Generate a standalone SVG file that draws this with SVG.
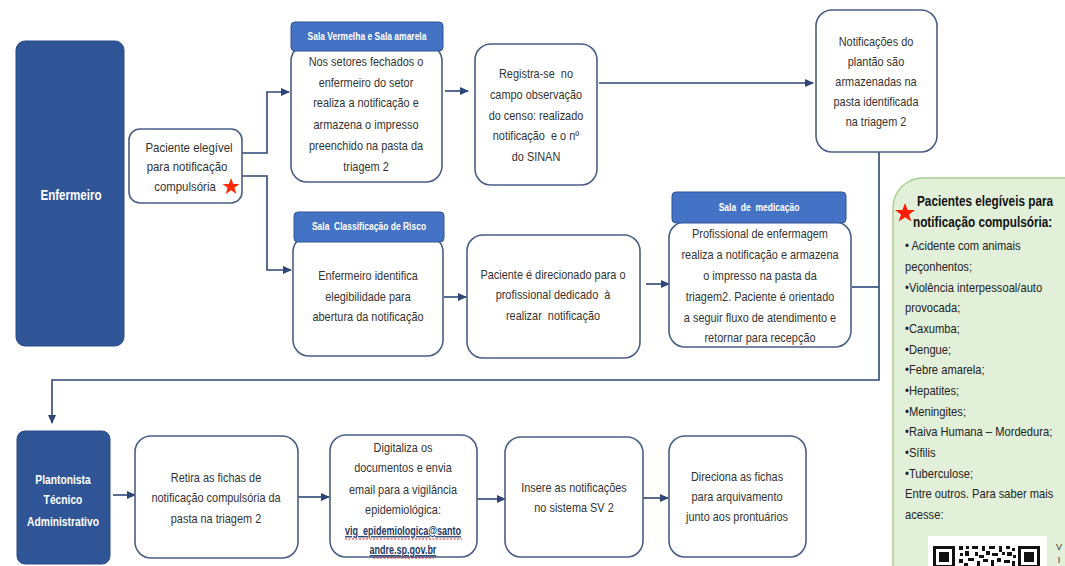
<svg xmlns="http://www.w3.org/2000/svg" width="1065" height="566" viewBox="0 0 1065 566">
<defs>
<marker id="arr" markerWidth="9" markerHeight="8" refX="8" refY="4" orient="auto" markerUnits="userSpaceOnUse">
<path d="M0,0 L9,4 L0,8 Z" fill="#2E4676"/>
</marker>
<style>
.lane{fill:#2F5597;stroke:#2A4C87;stroke-width:1}
.box{fill:#ffffff;stroke:#4A5E86;stroke-width:1.6}
.hdr{fill:#4472C4;stroke:#2F5597;stroke-width:1}
.t{font-family:"Liberation Sans",Arial,sans-serif;font-size:13px;fill:#333333;text-anchor:middle}
.h{font-family:"Liberation Sans",Arial,sans-serif;font-size:10px;font-weight:bold;fill:#ffffff;text-anchor:middle}
.w{font-family:"Liberation Sans",Arial,sans-serif;font-weight:bold;fill:#ffffff;text-anchor:middle}
.g{font-family:"Liberation Sans",Arial,sans-serif;font-size:13px;fill:#222222}
.gb{font-family:"Liberation Sans",Arial,sans-serif;font-size:15.5px;font-weight:bold;fill:#111111}
.sm{font-family:"Liberation Sans",Arial,sans-serif;font-size:9px;fill:#333333;text-anchor:middle}
.lnk{font-family:"Liberation Sans",Arial,sans-serif;font-size:12.5px;font-weight:bold;fill:#1F3864;text-anchor:middle;text-decoration:underline}
.c{fill:none;stroke:#2E4676;stroke-width:1.6}
.sq{fill:none;stroke:#E02020;stroke-width:1;stroke-dasharray:2 1.5}
</style>
</defs>
<rect width="1065" height="566" fill="#ffffff"/>

<g id="connectors">
<path class="c" d="M242,153 H267 V92 H289" marker-end="url(#arr)"/>
<path class="c" d="M242,176 H267 V270 H291" marker-end="url(#arr)"/>
<path class="c" d="M445,91 H468" marker-end="url(#arr)"/>
<path class="c" d="M599,83 H813" marker-end="url(#arr)"/>
<path class="c" d="M444,297 H466" marker-end="url(#arr)"/>
<path class="c" d="M646,284 H669" marker-end="url(#arr)"/>
<path class="c" d="M852,287 H879"/>
<path class="c" d="M879,152 V380 H52 V423" marker-end="url(#arr)"/>
<path class="c" d="M113,495 H135" marker-end="url(#arr)"/>
<path class="c" d="M298,497 H329" marker-end="url(#arr)"/>
<path class="c" d="M477,499 H505" marker-end="url(#arr)"/>
<path class="c" d="M643,498 H668" marker-end="url(#arr)"/>
</g>

<g id="enfermeiro">
<rect class="lane" x="16" y="41" width="108" height="305" rx="9"/>
<g transform="translate(71,0) scale(0.8,1)">
<text class="w" x="0" y="200" font-size="14.5">Enfermeiro</text>
</g>
</g>

<g id="paciente-elegivel">
<rect class="box" x="129" y="129" width="113" height="74" rx="11"/>
<g transform="translate(187,0) scale(0.88,1)">
<text class="t" x="2.3" y="152.5">Paciente elegível</text>
<text class="t" x="0" y="171.5">para notificação</text>
<text class="t" x="-2.3" y="191.5">compulsória</text>
</g>
<polygon points="231,178 233.2,184 239.5,184 234.4,187.8 236.3,194 231,190.2 225.7,194 227.6,187.8 222.5,184 228.8,184" fill="#FF2A00"/>
</g>

<g id="sala-vermelha">
<rect class="box" x="291" y="45" width="151" height="137" rx="16"/>
<rect class="hdr" x="291" y="22" width="152" height="29" rx="4"/>
<g transform="translate(367,0) scale(0.85,1)">
<text class="h" x="0" y="40.5">Sala Vermelha e Sala amarela</text>
</g>
<g transform="translate(366,0) scale(0.84,1)">
<text class="t" x="0" y="66.5">Nos setores fechados o</text>
<text class="t" x="0" y="87.5">enfermeiro do setor</text>
<text class="t" x="0" y="107.5">realiza a notificação e</text>
<text class="t" x="0" y="129">armazena o impresso</text>
<text class="t" x="0" y="150">preenchido na pasta da</text>
<text class="t" x="0" y="171">triagem 2</text>
</g>
</g>

<g id="registra">
<rect class="box" x="475" y="44" width="122" height="141" rx="16"/>
<g transform="translate(536,0) scale(0.84,1)">
<text class="t" x="0" y="78.5" xml:space="preserve">Registra-se  no</text>
<text class="t" x="0" y="99.5">campo observação</text>
<text class="t" x="0" y="120">do censo: realizado</text>
<text class="t" x="0" y="140.5" xml:space="preserve">notificação  e o nº</text>
<text class="t" x="0" y="161.5">do SINAN</text>
</g>
</g>

<g id="notificacoes-plantao">
<rect class="box" x="816" y="10" width="121" height="142" rx="16"/>
<g transform="translate(876,0) scale(0.84,1)">
<text class="t" x="0" y="46.5">Notificações do</text>
<text class="t" x="0" y="66.5">plantão são</text>
<text class="t" x="0" y="86.5">armazenadas na</text>
<text class="t" x="0" y="106.5">pasta identificada</text>
<text class="t" x="0" y="126.5">na triagem 2</text>
</g>
</g>

<g id="sala-classificacao">
<rect class="box" x="293" y="236" width="150" height="120" rx="16"/>
<rect class="hdr" x="294" y="212" width="150" height="30" rx="4"/>
<g transform="translate(369,0) scale(0.85,1)">
<text class="h" x="0" y="230.5" xml:space="preserve">Sala  Classificação de Risco</text>
</g>
<g transform="translate(368,0) scale(0.84,1)">
<text class="t" x="0" y="280.5">Enfermeiro identifica</text>
<text class="t" x="0" y="301.5">elegibilidade para</text>
<text class="t" x="0" y="321.5">abertura da notificação</text>
</g>
</g>

<g id="paciente-direcionado">
<rect class="box" x="467" y="235" width="173" height="123" rx="16"/>
<g transform="translate(553,0) scale(0.84,1)">
<text class="t" x="0" y="279.5">Paciente é direcionado para o</text>
<text class="t" x="0" y="299.5" xml:space="preserve">profissional dedicado  à</text>
<text class="t" x="0" y="320.5" xml:space="preserve">realizar  notificação</text>
</g>
</g>

<g id="sala-medicacao">
<rect class="box" x="669" y="222" width="182" height="125" rx="16"/>
<rect class="hdr" x="672" y="192" width="174" height="31" rx="4"/>
<g transform="translate(759,0) scale(0.85,1)">
<text class="h" x="0" y="211.5" xml:space="preserve">Sala  de  medicação</text>
</g>
<g transform="translate(760,0) scale(0.84,1)">
<text class="t" x="0" y="238.5">Profissional de enfermagem</text>
<text class="t" x="0" y="259.5">realiza a notificação e armazena</text>
<text class="t" x="0" y="280.5">o impresso na pasta da</text>
<text class="t" x="0" y="301.5">triagem2. Paciente é orientado</text>
<text class="t" x="0" y="322.5">a seguir fluxo de atendimento e</text>
<text class="t" x="0" y="342.5">retornar para recepção</text>
</g>
</g>

<g id="legenda">
<rect x="893" y="178" width="200" height="430" rx="30" fill="#E2F0D9" stroke="#A9D18E" stroke-width="1.5"/>
<polygon points="905,203 907.6,210 915,210 909,214.4 911.3,221.5 905,217.2 898.7,221.5 901,214.4 895,210 902.4,210" fill="#FF1A00"/>
<g transform="translate(913,0) scale(0.76,1)">
<text class="gb" x="5.3" y="206.5">Pacientes elegíveis para</text>
<text class="gb" x="0" y="227.5">notificação compulsória:</text>
</g>
<g transform="translate(905,0) scale(0.86,1)">
<text class="g" x="0" y="250.5">• Acidente com animais</text>
<text class="g" x="0" y="271">peçonhentos;</text>
<text class="g" x="0" y="292">•Violência interpessoal/auto</text>
<text class="g" x="0" y="312.5">provocada;</text>
<text class="g" x="0" y="333">•Caxumba;</text>
<text class="g" x="0" y="354">•Dengue;</text>
<text class="g" x="0" y="374.5">•Febre amarela;</text>
<text class="g" x="0" y="395">•Hepatites;</text>
<text class="g" x="0" y="416">•Meningites;</text>
<text class="g" x="0" y="436.5">•Raiva Humana – Mordedura;</text>
<text class="g" x="0" y="457.5">•Sífilis</text>
<text class="g" x="0" y="478">•Tuberculose;</text>
<text class="g" x="0" y="498.5">Entre outros. Para saber mais</text>
<text class="g" x="0" y="519.5">acesse:</text>
</g>
<rect x="928" y="536" width="119" height="40" fill="#ffffff"/>
<g fill="#111111">
<rect x="933" y="546" width="22" height="22"/>
<rect x="936" y="549" width="16" height="16" fill="#ffffff"/>
<rect x="939" y="552" width="10" height="10"/>
<rect x="1018" y="546" width="22" height="22"/>
<rect x="1021" y="549" width="16" height="16" fill="#ffffff"/>
<rect x="1024" y="552" width="10" height="10"/>
<rect x="959" y="546" width="4" height="4"/><rect x="966" y="546" width="3" height="3"/><rect x="972" y="546" width="6" height="3"/>
<rect x="982" y="546" width="3" height="5"/><rect x="989" y="546" width="6" height="3"/><rect x="999" y="546" width="3" height="6"/>
<rect x="1006" y="546" width="4" height="3"/><rect x="1012" y="548" width="3" height="3"/>
<rect x="960" y="553" width="3" height="3"/><rect x="965" y="551" width="4" height="5"/><rect x="975" y="552" width="3" height="4"/>
<rect x="979" y="555" width="5" height="3"/><rect x="986" y="551" width="4" height="4"/><rect x="992" y="553" width="6" height="3"/>
<rect x="1002" y="552" width="3" height="3"/><rect x="1007" y="552" width="5" height="4"/><rect x="1013" y="555" width="3" height="3"/>
<rect x="959" y="559" width="4" height="4"/><rect x="968" y="558" width="6" height="3"/><rect x="977" y="561" width="3" height="5"/>
<rect x="983" y="559" width="5" height="3"/><rect x="991" y="560" width="3" height="6"/><rect x="997" y="558" width="4" height="4"/>
<rect x="1004" y="560" width="6" height="3"/><rect x="1012" y="561" width="3" height="5"/><rect x="964" y="563" width="4" height="3"/>
</g>
<text class="sm" x="1059" y="550">V</text>
<text class="sm" x="1059" y="563">I</text>
</g>

<g id="plantonista">
<rect class="lane" x="17" y="431" width="93" height="133" rx="8"/>
<g transform="translate(63,0) scale(0.79,1)">
<text class="w" x="0" y="484.5" font-size="13">Plantonista</text>
<text class="w" x="0" y="504.5" font-size="13">Técnico</text>
<text class="w" x="0" y="526" font-size="13">Administrativo</text>
</g>
</g>

<g id="retira">
<rect class="box" x="135" y="436" width="163" height="122" rx="16"/>
<g transform="translate(216,0) scale(0.84,1)">
<text class="t" x="0" y="482.5">Retira as fichas de</text>
<text class="t" x="0" y="502.5">notificação compulsória da</text>
<text class="t" x="0" y="523.5">pasta na triagem 2</text>
</g>
</g>

<g id="digitaliza">
<rect class="box" x="330" y="435" width="147" height="122" rx="16"/>
<g transform="translate(403,0) scale(0.84,1)">
<text class="t" x="0" y="452.5">Digitaliza os</text>
<text class="t" x="0" y="472.5">documentos e envia</text>
<text class="t" x="0" y="494">email para a vigilância</text>
<text class="t" x="0" y="514.5">epidemiológica:</text>
</g>
<g transform="translate(403,0) scale(0.72,1)">
<text class="lnk" x="0" y="535">vig_epidemiologica@santo</text>
<text class="lnk" x="0" y="554">andre.sp.gov.br</text>
</g>
<path class="sq" d="M345,539 H462"/>
<path class="sq" d="M373,558 H434"/>
</g>

<g id="insere">
<rect class="box" x="505" y="437" width="138" height="120" rx="16"/>
<g transform="translate(574,0) scale(0.84,1)">
<text class="t" x="0" y="492.5">Insere as notificações</text>
<text class="t" x="0" y="512.5">no sistema SV 2</text>
</g>
</g>

<g id="direciona">
<rect class="box" x="669" y="436" width="137" height="121" rx="16"/>
<g transform="translate(737,0) scale(0.84,1)">
<text class="t" x="0" y="481.5">Direciona as fichas</text>
<text class="t" x="0" y="501.5">para arquivamento</text>
<text class="t" x="0" y="521.5">junto aos prontuários</text>
</g>
</g>
</svg>
